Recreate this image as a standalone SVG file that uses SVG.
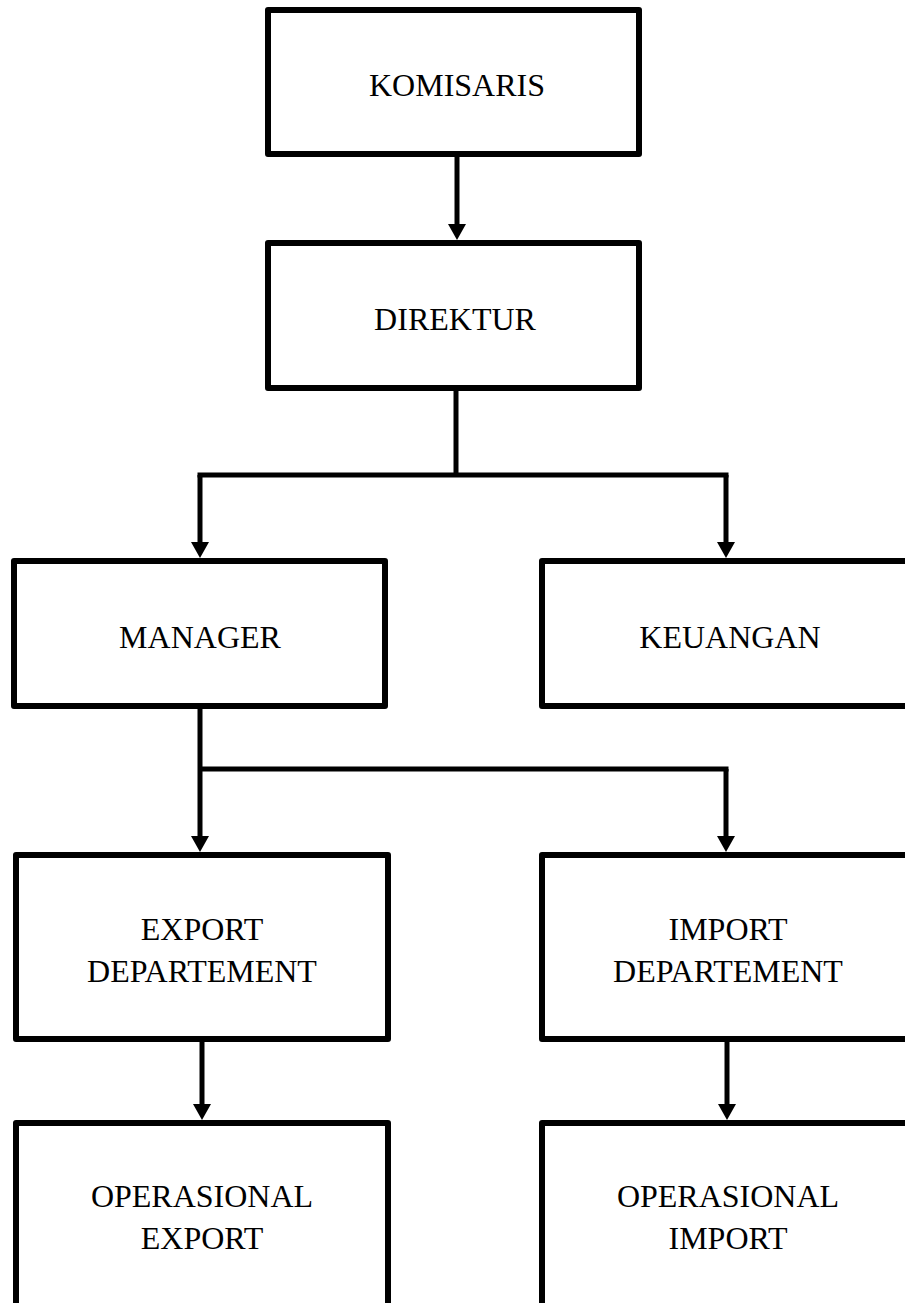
<svg xmlns="http://www.w3.org/2000/svg" width="905" height="1303" viewBox="0 0 905 1303">
<style>
.box{fill:#fff;stroke:#000;stroke-width:6;stroke-linejoin:round}
.lbl{font-family:"Liberation Serif","Times New Roman",serif;font-size:32px;fill:#000;text-anchor:middle}
.ln{fill:none;stroke:#000;stroke-width:5}
</style>
<defs>
<marker id="ah" viewBox="0 0 16 18" markerWidth="16" markerHeight="18" markerUnits="userSpaceOnUse" refX="6" refY="9" orient="auto">
<path d="M0,0 L16,9 L0,18 z" fill="#000"/>
</marker>
</defs>
<rect width="905" height="1303" fill="#fff"/>
<g id="connectors">
<line class="ln" x1="457" y1="157" x2="457" y2="230" marker-end="url(#ah)"/>
<line class="ln" x1="456" y1="390" x2="456" y2="475"/>
<line class="ln" x1="197.5" y1="475" x2="728.5" y2="475" stroke-width="6"/>
<line class="ln" x1="200" y1="475" x2="200" y2="548" marker-end="url(#ah)"/>
<line class="ln" x1="726" y1="475" x2="726" y2="548" marker-end="url(#ah)"/>
<line class="ln" x1="200" y1="708" x2="200" y2="842" marker-end="url(#ah)"/>
<line class="ln" x1="200" y1="769" x2="728.5" y2="769" stroke-width="6"/>
<line class="ln" x1="726" y1="769" x2="726" y2="842" marker-end="url(#ah)"/>
<line class="ln" x1="202" y1="1041" x2="202" y2="1110" marker-end="url(#ah)"/>
<line class="ln" x1="727" y1="1041" x2="727" y2="1110" marker-end="url(#ah)"/>
</g>
<g id="komisaris"><rect class="box" x="268" y="10" width="371" height="144"/><text class="lbl" x="457" y="96">KOMISARIS</text></g>
<g id="direktur"><rect class="box" x="268" y="243" width="371" height="145"/><text class="lbl" x="455" y="330">DIREKTUR</text></g>
<g id="manager"><rect class="box" x="14" y="561" width="371" height="145"/><text class="lbl" x="200" y="648">MANAGER</text></g>
<g id="keuangan"><rect class="box" x="542" y="561" width="376" height="145"/><text class="lbl" x="730" y="648">KEUANGAN</text></g>
<g id="export"><rect class="box" x="16" y="855" width="372" height="184"/><text class="lbl" x="202" y="940">EXPORT</text><text class="lbl" x="202" y="982">DEPARTEMENT</text></g>
<g id="import"><rect class="box" x="542" y="855" width="376" height="184"/><text class="lbl" x="728" y="940">IMPORT</text><text class="lbl" x="728" y="982">DEPARTEMENT</text></g>
<g id="op-export"><rect class="box" x="16" y="1123" width="372" height="220"/><text class="lbl" x="202" y="1207">OPERASIONAL</text><text class="lbl" x="202" y="1249">EXPORT</text></g>
<g id="op-import"><rect class="box" x="542" y="1123" width="376" height="220"/><text class="lbl" x="728" y="1207">OPERASIONAL</text><text class="lbl" x="728" y="1249">IMPORT</text></g>
</svg>
